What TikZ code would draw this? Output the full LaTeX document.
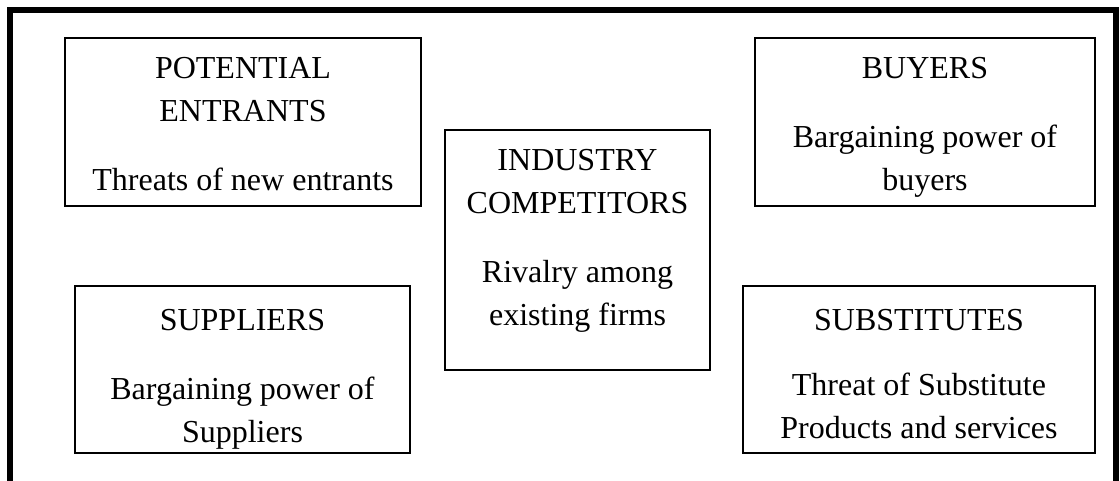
\documentclass[tikz,border=0pt]{standalone}
\usepackage{fontspec}
\setmainfont{Liberation Serif}
\usetikzlibrary{positioning}

\begin{document}
\begin{tikzpicture}[x=0.5pt, y=-0.5pt,
    forcebox/.style={draw, line width=0.8pt, inner sep=0pt},
    boxtext/.style={align=center, inner sep=0pt, anchor=north,
      font=\fontsize{16}{21.5}\selectfont}]

\useasboundingbox (0,0) rectangle (1120,481);

% Outer frame, open at the bottom
\draw[line width=3pt] (10,481) -- (10,10) -- (1116,10) -- (1116,481);

% The five forces
\node[forcebox, minimum width=178pt, minimum height=84pt] (entrants) at (243,122) {};
\node[forcebox, minimum width=170pt, minimum height=84pt] (buyers) at (925,122) {};
\node[forcebox, minimum width=132.5pt, minimum height=120pt] (industry) at (577.5,250) {};
\node[forcebox, minimum width=167.5pt, minimum height=83.5pt] (suppliers) at (242.5,369.5) {};
\node[forcebox, minimum width=176pt, minimum height=83.5pt] (substitutes) at (919,369.5) {};

% Text inside the boxes
\node[boxtext, below=10pt of entrants.north] (entrantstext)
  {POTENTIAL\\ENTRANTS\\[13pt]Threats of new entrants};
\node[boxtext, below=10pt of buyers.north] (buyerstext)
  {BUYERS\\[13pt]Bargaining power of\\buyers};
\node[boxtext, below=10pt of industry.north] (industrytext)
  {INDUSTRY\\COMPETITORS\\[13pt]Rivalry among\\existing firms};
\node[boxtext, below=12pt of suppliers.north] (supplierstext)
  {SUPPLIERS\\[13pt]Bargaining power of\\Suppliers};
\node[boxtext, below=12pt of substitutes.north] (substitutestext)
  {SUBSTITUTES\\[11pt]Threat of Substitute\\Products and services};

\end{tikzpicture}
\end{document}
